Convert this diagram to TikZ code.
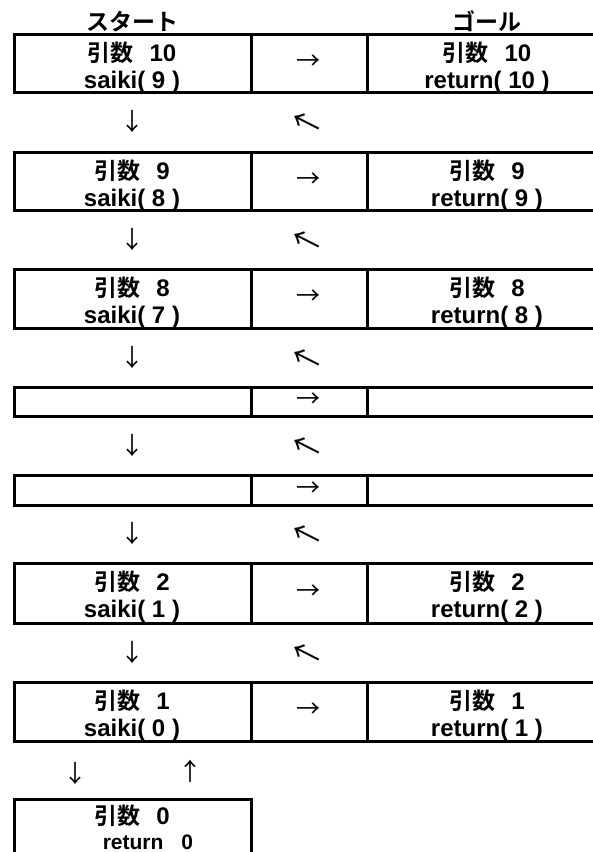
\documentclass[tikz,border=0pt]{standalone}
\usepackage{fontspec}
\setmainfont{Liberation Sans}
\newfontfamily\jp{Noto Sans CJK JP}[BoldFont={Noto Sans CJK JP Bold}]
\tikzset{
  cell/.style={draw, line width=3pt, inner sep=0pt, anchor=north west},
  jtxt/.style={font=\jp\bfseries\fontsize{23}{23}\selectfont, inner sep=0pt, anchor=base},
  ltxt/.style={font=\bfseries\fontsize{24}{24}\selectfont, inner sep=0pt, anchor=base},
  stxt/.style={font=\bfseries\fontsize{21}{21}\selectfont, inner sep=0pt, anchor=base},
  arr/.style={font=\jp\fontsize{24}{24}\selectfont, inner sep=0pt},
  arrlong/.style={font=\jp\fontsize{30}{30}\selectfont, inner sep=0pt, rotate=153},
}
\newcommand\kanji[1]{{\jp\bfseries\fontsize{23}{23}\selectfont #1}}
\begin{document}
\begin{tikzpicture}[x=1pt,y=-1pt]
\useasboundingbox (0,0) rectangle (593,852);
\clip (0,0) rectangle (593,852);
\fill[white] (0,0) rectangle (593,852);
% titles
\node[jtxt] (tstart) at (132,30) {スタート};
\node[jtxt] (tgoal) at (487,30) {ゴール};
% full rows
\foreach \i/\t/\b/\n/\m in {1/33/91/10/9, 2/151/209/9/8, 3/268/327/8/7, 6/562/622/2/1, 7/681/740/1/0}{
  \node[cell, minimum width=237pt, minimum height={(\b-\t)*1pt}] (L\i) at (13,\t) {};
  \node[cell, minimum width=116pt, minimum height={(\b-\t)*1pt}] (M\i) at (250,\t) {};
  \node[cell, minimum width=254pt, minimum height={(\b-\t)*1pt}] (R\i) at (366,\t) {};
  \node[ltxt] (La\i) at (132,\t+28) {\kanji{引数}\hspace{16pt}\n};
  \node[ltxt] (Lb\i) at (132,\t+55) {saiki( \m\ )};
  \node[ltxt] (Ra\i) at (487,\t+28) {\kanji{引数}\hspace{16pt}\n};
  \node[ltxt] (Rb\i) at (487,\t+55) {return( \n\ )};
  \node[arr] (Ma\i) at (308,{(\t+\b)/2}) {→};
}
% empty rows
\foreach \i/\t/\b in {4/386/415, 5/474/504}{
  \node[cell, minimum width=237pt, minimum height={(\b-\t)*1pt}] (L\i) at (13,\t) {};
  \node[cell, minimum width=116pt, minimum height={(\b-\t)*1pt}] (M\i) at (250,\t) {};
  \node[cell, minimum width=254pt, minimum height={(\b-\t)*1pt}] (R\i) at (366,\t) {};
  \node[arr] (Ma\i) at (308,{(\t+\b)/2}) {→};
}
% gap arrows
\foreach \g/\y in {1/121, 2/239, 3/357, 4/445, 5/533, 6/652}{
  \node[arr] (D\g) at (132,\y) {↓};
  \node[arrlong] (U\g) at (308,\y) {→};
}
\node[arr] (Dlast) at (75,773) {↓};
\node[arr] (Ulast) at (190,771) {↑};
% last row
\node[cell, minimum width=237pt, minimum height=80pt] (L8) at (13,798) {};
\node[ltxt] (La8) at (132,824) {\kanji{引数}\hspace{16pt}0};
\node[stxt] (Lb8) at (148,849) {return\hspace{18pt}0};
\end{tikzpicture}
\end{document}
